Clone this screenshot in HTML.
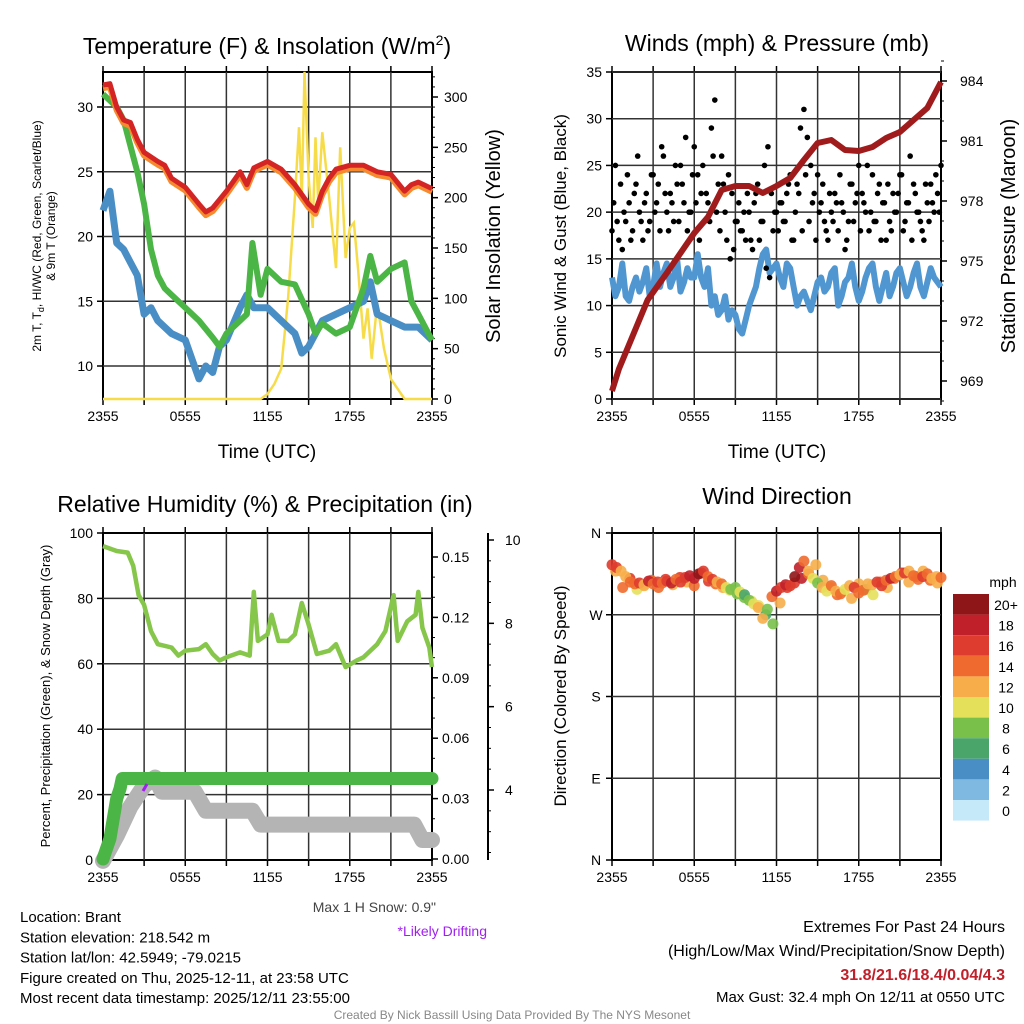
<!DOCTYPE html>
<html><head><meta charset="utf-8">
<style>
body{margin:0;background:#fff;}
svg{display:block;font-family:"Liberation Sans",Arial,sans-serif;}
</style></head>
<body>
<svg id="c" width="1024" height="1024" viewBox="0 0 1024 1024"></svg>
<script>
// ---------- DATA ----------
const timeTicks = ["2355","0555","1155","1755","2355"];
const tempH = [0,0.5,1,1.5,2,2.5,3,4,4.5,5,6,7,7.5,8,9,10,10.5,11,12,13,14,15,15.5,16,16.5,17,18,19,20,21,22,22.5,23,24];
const tempV = [31.7,31.8,30.0,29.0,28.8,27.5,26.5,25.8,25.5,24.5,23.8,22.5,21.9,22.2,23.5,25.0,24.0,25.3,25.8,25.2,24.0,22.5,22.0,23.5,24.5,25.2,25.5,25.5,25.0,24.8,23.5,24.0,24.2,23.7];
const dewH = [0,1,1.5,2,2.5,3,3.5,4,4.5,5,6,7,8,8.5,9,10,10.5,10.9,11.5,12,13,14,15,15.5,16,17,18,19,19.5,20,21,22,22.5,23,24];
const dewV = [31,30,29,27,25,22.5,19,17,16,15.5,14.5,13.5,12.2,11.5,12.5,13.5,14,19.5,15.5,17.5,16.5,16.3,14,12.5,13.3,12.5,13,16,18.5,16.5,17.5,18,15,14,12];
const wcH = [0,0.5,1,1.5,2,2.5,3,3.5,4,5,6,6.5,7,7.5,8,8.5,9,10,10.5,11,12,13,14,14.5,15,16,17,18,19,19.5,20,21,22,23,24];
const wcV = [22,23.5,19.5,19,18,17,14,14.5,13.5,12.5,12,10.5,9,10,9.5,11.5,12,14.5,15.5,14.5,14.5,13.5,12.5,11,11.5,13.5,14,14.5,15,16.5,14,13.5,13,13,12];
const solH = [0,11.5,12,12.5,13,13.5,14,14.3,14.5,14.7,15,15.3,15.5,15.7,16,16.5,17,17.3,17.7,18,18.3,18.6,19,19.3,19.6,20,20.5,21,22,24];
const solV = [0,0,5,15,30,100,200,270,200,325,220,170,260,195,265,200,130,250,140,170,175,130,60,90,40,95,50,20,0,0];
const windV = [13,11,12,14.5,11,10.5,12,13,11.5,12.5,14,11,12,14.5,12,13.5,14.5,12,13,15,11.5,12.5,14,13,13,15.5,13,12,14,10,11,9,9.5,11,8.5,9.5,9,7.5,7,8.5,10,11,12,14,15.5,16,13.5,14,14.5,13,12,14.5,14,12,10,11,11.5,10.5,9.5,11,12.5,13,11.5,12,13.5,14,10,11,12.5,13,14.5,12,10.5,11.5,13,14,14.5,12,10.5,12,13.5,11,12,13.5,14,12.5,11,12,13.5,14.5,12,11,12.5,14,13,12.5,12];
const gustV = [18,25,17,16,19,21,18,23,20,17,22,19,24,21,18,26,20,22,19,23,25,21,18,20,27,24,22,19,21,29,32,23,26,20,24,22,19,21,18,17,20,16,22,17,19,14,13,18,20,21,19,22,24,17,23,29,31,28,25,22,24,21,19,17,20,22,18,21,16,19,23,21,25,22,20,18,24,19,23,21,17,19,22,20,24,18,21,26,23,20,19,17,21,23,20,22,25];
const gust2V = [21,19,23,20,24,17,22,26,19,21,18,24,20,23,27,22,18,21,25,19,23,28,20,24,21,17,25,22,19,26,20,18,23,17,15,16,19,18,20,22,17,21,23,19,25,27,22,20,18,21,19,23,17,20,22,18,24,19,21,17,20,23,18,22,19,21,24,20,17,23,19,22,18,21,25,20,19,22,17,21,23,18,20,22,24,19,21,17,22,20,18,23,19,21,24,20];
const presH = [0,0.5,2.6,4,6,7,8,9,10,11,12,13,14,15,16,17,18,19,20,21,22,23,24];
const presV = [968.5,969.6,973.05,974.4,976.4,977.2,978.55,978.75,978.75,978.4,978.75,979.15,980.05,980.9,981.05,980.55,980.5,980.7,981.15,981.45,982.05,982.65,983.95];
const rhH = [0,1,1.8,2.2,2.6,3,3.5,4,5,5.5,6,7,7.5,8,8.5,9,10,10.7,11,11.3,12,12.3,12.8,13.5,14,14.5,15,15.6,16.5,17,17.7,18.5,19,20,20.6,21.2,21.5,22.2,22.8,23,23.3,23.8,24];
const rhV = [96,94.5,94,90,81,78,70,66,65,62.5,64,64.5,66,63,61,62,63.5,62.5,82,67,69,75,67,67,69,78.6,72,63,64,66,59,61,62,66,70,81,67,73,75,82,71,65,59];
const pcpH = [0,0.25,0.5,0.75,1,1.25,1.4,24];
const pcpV = [0,0.005,0.01,0.02,0.03,0.035,0.04,0.04];
const snowH = [0,1,2,3,3.8,4.3,6.7,7.5,10.9,11.5,22.7,23.3,24];
const snowV = [2.3,2.9,3.6,4.1,4.3,3.96,3.96,3.5,3.5,3.17,3.17,2.8,2.8];
const dirV = [325,322,318,312,306,304,305,303,307,304,306,305,307,305,309,306,311,313,310,315,318,312,309,306,304,300,298,300,295,292,286,282,278,266,276,290,296,300,303,302,312,322,329,318,310,305,300,296,302,296,293,298,302,300,294,297,304,303,306,302,308,310,312,314,316,318,313,309,312,315,310,312,311];
const spdV = [16,17,13,12,15,14,16,13,18,15,17,14,16,18,15,17,16,19,18,20,17,15,16,13,14,10,9,8,11,7,9,10,12,13,8,15,18,17,19,16,20,18,14,12,11,9,13,11,15,12,14,10,13,16,15,14,12,13,16,17,15,18,14,12,16,13,15,14,16,14,13,12,15];
const dir2V = [318,300,310,298,302,308,300,309,303,311,306,302,316,307,304,300,297,293,289,285,280,270,260,283,300,305,310,315,325,308,300,292,296,288,304,298,292,306,300,310,316,306,312,318,308,305];
const spd2V = [12,14,16,11,13,15,14,17,12,16,13,15,18,16,14,12,10,9,8,11,10,7,8,12,16,17,19,15,13,12,11,14,10,12,13,9,11,14,12,15,16,13,14,12,15,13];
const cbLabels = ["20+","18","16","14","12","10","8","6","4","2","0"];
const cbColors = ["#8e1518","#c0202a","#de3c2e","#ef6a2e","#f7ae4a","#e5e05a","#79c04a","#4aa56a","#4a8ec6","#7fb8e0","#c6e9fa"];

// ---------- HELPERS ----------
const NS="http://www.w3.org/2000/svg";
const svg=document.getElementById('c');
function el(tag,attrs,parent){const e=document.createElementNS(NS,tag);for(const k in attrs)e.setAttribute(k,attrs[k]);(parent||svg).appendChild(e);return e;}
function txt(s,x,y,size,anchor,parent,extra){const t=el('text',Object.assign({x:x,y:y,'font-size':size,'text-anchor':anchor||'middle',fill:'#000'},extra||{}),parent);t.textContent=s;return t;}
function lin(d0,d1,r0,r1){return v=>r0+(v-d0)/(d1-d0)*(r1-r0);}
function pathFrom(xs,ys,fx,fy){return xs.map((x,i)=>(i?'L':'M')+fx(x).toFixed(1)+','+fy(ys[i]).toFixed(1)).join('');}
function frame(x0,y0,x1,y1,name){
  const g=el('g',{});
  
  
  el('rect',{x:x0,y:y0,width:x1-x0,height:y1-y0,fill:'none',stroke:'#000','stroke-width':2},g);
  return g;
}
function xAxis(x0,x1,y0,y1,g){
  const fx=lin(0,24,x0,x1);
  for(let h=3;h<24;h+=3){el('line',{x1:fx(h),y1:y0,x2:fx(h),y2:y1,stroke:'#333','stroke-width':1.5},g);}
  for(let h=0;h<=24;h+=3){el('line',{x1:fx(h),y1:y1,x2:fx(h),y2:y1+6,stroke:'#000','stroke-width':1.5},g);el('line',{x1:fx(h),y1:y0,x2:fx(h),y2:y0-6,stroke:'#000','stroke-width':1.5},g);}
  timeTicks.forEach((s,i)=>{const t=txt(s,fx(i*6),y1+22,14,'middle',g);});
  return fx;
}

// ---------- PANEL 1 ----------
(function(){
 const X0=103,X1=432,Y0=72,Y1=399;
 const g=frame(X0,Y0,X1,Y1,'temperature-panel');
 const fx=xAxis(X0,X1,Y0,Y1,g);
 const fy=lin(10,30,366,107), fs=lin(0,300,399,97);
 [10,15,20,25,30].forEach(v=>{el('line',{x1:X0,y1:fy(v),x2:X1,y2:fy(v),stroke:'#333','stroke-width':1.5},g);el('line',{x1:X0-6,y1:fy(v),x2:X0,y2:fy(v),stroke:'#000','stroke-width':1.5},g);txt(String(v),X0-10,fy(v)+5,14,'end',g);});
 for(let v=0;v<=300;v+=50){el('line',{x1:X1,y1:fs(v),x2:X1+6,y2:fs(v),stroke:'#000','stroke-width':1.5},g);txt(String(v),X1+12,fs(v)+5,14,'start',g);}
 for(let v=10;v<=320;v+=10){el('line',{x1:X1,y1:fs(v),x2:X1+3,y2:fs(v),stroke:'#000','stroke-width':1},g);}
 const s=el('path',{d:pathFrom(solH,solV,fx,fs),fill:'none',stroke:'#f7dc4a','stroke-width':2.5},g);
 
 const w=el('path',{d:pathFrom(wcH,wcV,fx,fy),fill:'none',stroke:'#4a8ec6','stroke-width':7,'stroke-linejoin':'round'},g);
 
 const d=el('path',{d:pathFrom(dewH,dewV,fx,fy),fill:'none',stroke:'#4bb545','stroke-width':6,'stroke-linejoin':'round'},g);
 
 const o=el('path',{d:pathFrom(tempH,tempV.map(v=>v-0.25),fx,fy),fill:'none',stroke:'#f58a2e','stroke-width':6,'stroke-linejoin':'round'},g);
 
 const r=el('path',{d:pathFrom(tempH,tempV,fx,fy),fill:'none',stroke:'#d42424','stroke-width':5,'stroke-linejoin':'round'},g);
 
 const t=el('text',{x:267,y:54,'font-size':23,'text-anchor':'middle'},g);t.innerHTML='Temperature (F) &amp; Insolation (W/m<tspan dy="-9" font-size="14">2</tspan><tspan dy="9">)</tspan>';
 
 const xl=txt('Time (UTC)',267,458,19,'middle',g);
 const yl=el('text',{transform:'translate(41,236) rotate(-90)','font-size':12,'text-anchor':'middle'},g);yl.innerHTML='2m T, T<tspan dy="3" font-size="9">d</tspan><tspan dy="-3">, HI/WC (Red, Green, Scarlet/Blue)</tspan>';
 
 const yl2=txt('& 9m T (Orange)',0,0,12,'middle',g,{transform:'translate(55,236) rotate(-90)'});
 const yr=txt('Solar Insolation (Yellow)',0,0,20,'middle',g,{transform:'translate(500,236) rotate(-90)'});
})();

// ---------- PANEL 2 ----------
(function(){
 const X0=612,X1=941,Y0=72,Y1=399;
 const g=frame(X0,Y0,X1,Y1,'winds-panel');
 const fx=xAxis(X0,X1,Y0,Y1,g);
 const fy=lin(0,35,399,72), fp=lin(969,984,381,81);
 for(let v=0;v<=35;v+=5){el('line',{x1:X0,y1:fy(v),x2:X1,y2:fy(v),stroke:'#333','stroke-width':1.5},g);el('line',{x1:X0-6,y1:fy(v),x2:X0,y2:fy(v),stroke:'#000','stroke-width':1.5},g);txt(String(v),X0-10,fy(v)+5,14,'end',g);}
 for(let v=969;v<=984;v+=3){el('line',{x1:X1,y1:fp(v),x2:X1+6,y2:fp(v),stroke:'#000','stroke-width':1.5},g);txt(String(v),X1+19,fp(v)+5,14,'start',g);}
 for(let v=968;v<=985;v+=1){el('line',{x1:X1,y1:fp(v),x2:X1+3,y2:fp(v),stroke:'#000','stroke-width':1},g);}
 const wt=windV.map((v,i)=>i*24/(windV.length-1));
 const w=el('path',{d:pathFrom(wt,windV,fx,fy),fill:'none',stroke:'#5096d0','stroke-width':6,'stroke-linejoin':'round'},g);
 
 gustV.forEach((v,i)=>{const c=el('circle',{cx:fx(i*24/(gustV.length-1)),cy:fy(v),r:2.8,fill:'#000'},g);
  
  });
 gust2V.forEach((v,i)=>{const c=el('circle',{cx:fx((i+0.5)*24/gust2V.length),cy:fy(v),r:2.8,fill:'#000'},g);
  
  });
 const p=el('path',{d:pathFrom(presH,presV,fx,fp),fill:'none',stroke:'#a01c1c','stroke-width':6,'stroke-linejoin':'round'},g);
 
 const t=txt('Winds (mph) & Pressure (mb)',777,51,23,'middle',g);
 const xl=txt('Time (UTC)',777,458,19,'middle',g);
 const yl=txt('Sonic Wind & Gust (Blue, Black)',0,0,17,'middle',g,{transform:'translate(566,236) rotate(-90)'});
 const yr=txt('Station Pressure (Maroon)',0,0,20,'middle',g,{transform:'translate(1015,236) rotate(-90)'});
})();

// ---------- PANEL 3 ----------
(function(){
 const X0=103,X1=432,Y0=533,Y1=860;
 const g=frame(X0,Y0,X1,Y1,'humidity-panel');
 const fx=xAxis(X0,X1,Y0,Y1,g);
 const fy=lin(0,100,860,533), fpc=lin(0,0.15,859,557), fsn=lin(4,10,790,540);
 for(let v=0;v<=100;v+=20){if(v>0&&v<100)el('line',{x1:X0,y1:fy(v),x2:X1,y2:fy(v),stroke:'#333','stroke-width':1.5},g);el('line',{x1:X0-6,y1:fy(v),x2:X0,y2:fy(v),stroke:'#000','stroke-width':1.5},g);txt(String(v),X0-10,fy(v)+5,14,'end',g);}
 for(let v=0;v<=0.151;v+=0.03){el('line',{x1:X1,y1:fpc(v),x2:X1+6,y2:fpc(v),stroke:'#000','stroke-width':1.5},g);txt(v.toFixed(2),X1+10,fpc(v)+5,14,'start',g);}
 for(let v=0.01;v<0.16;v+=0.01){el('line',{x1:X1,y1:fpc(v),x2:X1+3,y2:fpc(v),stroke:'#000','stroke-width':1},g);}
 el('line',{x1:488,y1:Y0,x2:488,y2:Y1,stroke:'#000','stroke-width':2},g);
 for(let v=4;v<=10;v+=2){el('line',{x1:488,y1:fsn(v),x2:494,y2:fsn(v),stroke:'#000','stroke-width':1.5},g);txt(String(v),505,fsn(v)+5,14,'start',g);}
 for(let v=2.5;v<=10.2;v+=0.5){el('line',{x1:488,y1:fsn(v),x2:491,y2:fsn(v),stroke:'#000','stroke-width':1},g);}
 const s=el('path',{d:pathFrom(snowH,snowV,fx,fsn),fill:'none',stroke:'#b4b4b4','stroke-width':16,'stroke-linejoin':'round','stroke-linecap':'round'},g);
 
 const pc=el('path',{d:pathFrom(pcpH,pcpV,fx,fpc),fill:'none',stroke:'#4bb545','stroke-width':13,'stroke-linejoin':'round','stroke-linecap':'round'},g);
 
 el('line',{x1:143,y1:791,x2:147,y2:784,stroke:'#a020f0','stroke-width':3},g);
 const rh=el('path',{d:pathFrom(rhH,rhV,fx,fy),fill:'none',stroke:'#86c64a','stroke-width':4.5,'stroke-linejoin':'round'},g);
 
 const t=txt('Relative Humidity (%) & Precipitation (in)',265,512,23,'middle',g);
 const yl=txt('Percent, Precipitation (Green), & Snow Depth (Gray)',0,0,13,'middle',g,{transform:'translate(50,696) rotate(-90)'});
 const m=txt('Max 1 H Snow: 0.9"',436,912,14,'end',g,{fill:'#444'});
 const dr=txt('*Likely Drifting',487,936,14,'end',g,{fill:'#a020f0'});
})();

// ---------- PANEL 4 ----------
(function(){
 const X0=612,X1=941,Y0=533,Y1=860;
 const g=frame(X0,Y0,X1,Y1,'wind-direction-panel');
 const fx=xAxis(X0,X1,Y0,Y1,g);
 const fy=lin(0,360,860,533);
 const lbl={0:'N',90:'E',180:'S',270:'W',360:'N'};
 [0,90,180,270,360].forEach(v=>{if(v>0&&v<360)el('line',{x1:X0,y1:fy(v),x2:X1,y2:fy(v),stroke:'#333','stroke-width':1.5},g);el('line',{x1:X0-6,y1:fy(v),x2:X0,y2:fy(v),stroke:'#000','stroke-width':1.5},g);txt(lbl[v],X0-16,fy(v)+5,14,'middle',g);});
 function col(s){const i=Math.min(10,Math.floor(s/2));return cbColors[10-i];}
 dir2V.forEach((d,i)=>{const c=el('circle',{cx:fx((i+0.5)*24/dir2V.length),cy:fy(d),r:5.5,fill:col(spd2V[i]),'fill-opacity':0.9},g);
  
  });
 dirV.forEach((d,i)=>{const c=el('circle',{cx:fx(i*24/(dirV.length-1)),cy:fy(d),r:5.5,fill:col(spdV[i]),'fill-opacity':0.9},g);
  
  });
 const t=txt('Wind Direction',777,504,23,'middle',g);
 const yl=txt('Direction (Colored By Speed)',0,0,17,'middle',g,{transform:'translate(566,696) rotate(-90)'});
 const cb=el('g',{},g);
 txt('mph',1003,587,14,'middle',cb);
 cbColors.forEach((c,i)=>{el('rect',{x:953,y:594+i*20.6,width:36,height:20.6,fill:c},cb);txt(cbLabels[i],1006,610+i*20.6,14,'middle',cb);});
})();

// ---------- FOOTER ----------
const info=["Location: Brant","Station elevation: 218.542 m","Station lat/lon: 42.5949; -79.0215","Figure created on Thu, 2025-12-11, at 23:58 UTC","Most recent data timestamp: 2025/12/11 23:55:00"];
info.forEach((s,i)=>{const t=txt(s,20,922+i*20.3,15,'start');});
const r1=txt('Extremes For Past 24 Hours',1005,932,16,'end');
const r2=txt('(High/Low/Max Wind/Precipitation/Snow Depth)',1005,956,16,'end');
const r3=txt('31.8/21.6/18.4/0.04/4.3',1005,980,16,'end',null,{fill:'#c0202a','font-weight':'bold'});
const r4=txt('Max Gust: 32.4 mph On 12/11 at 0550 UTC',1005,1002,15,'end');
const cr=txt('Created By Nick Bassill Using Data Provided By The NYS Mesonet',512,1019,12,'middle',null,{fill:'#888'});
</script>
</body></html>
